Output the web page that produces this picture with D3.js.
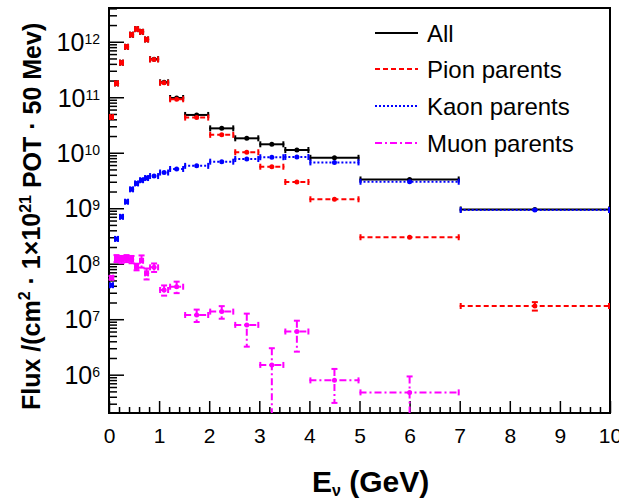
<!DOCTYPE html>
<html>
<head>
<meta charset="utf-8">
<script src="https://cdn.jsdelivr.net/npm/d3@7"></script>
<style>
  body { margin: 0; background: #fff; }
  text { font-family: "Liberation Sans", Arial, sans-serif; fill: #000; }
</style>
</head>
<body>
<div id="chart"></div>
<script>
// ========================================
// Data (bins in GeV, flux per bin)
// ========================================
const binEdges = [0, 0.1, 0.2, 0.3, 0.4, 0.5, 0.6, 0.7, 0.8, 1.0, 1.2, 1.5, 2.0, 2.5, 3.0, 3.5, 4.0, 5.0, 7.0, 10.0];

const allFlux  = [4.4e10, 1.78e11, 4.2e11, 8.1e11, 1.34e12, 1.69e12, 1.51e12, 1.1e12, 4.85e11, 1.86e11, 9.7e10, 4.8e10, 2.75e10, 1.82e10, 1.42e10, 1.12e10, 8.1e9, 3.3e9, 9.5e8];
const pionFlux = [4.4e10, 1.78e11, 4.2e11, 8.1e11, 1.34e12, 1.69e12, 1.51e12, 1.1e12, 4.8e11, 1.82e11, 9.2e10, 4.3e10, 2.1e10, 1.02e10, 5.6e9, 2.97e9, 1.45e9, 3.0e8, 1.73e7];
const pionErr  = [0, 0, 0, 0, 0, 0, 0, 0, 0, 0, 0, 0, 0, 0, 0, 0, 0, 0, 3e6];
const kaonFlux = [4.1e7, 2.8e8, 7.0e8, 1.31e9, 2.19e9, 2.8e9, 3.2e9, 3.5e9, 3.8e9, 4.4e9, 5.1e9, 5.8e9, 6.9e9, 7.7e9, 8.3e9, 8.4e9, 6.7e9, 3.0e9, 9.3e8];
const muonFlux = [5.6e7, 1.25e8, 1.2e8, 1.25e8, 1.2e8, 8.8e7, 1.13e8, 6.7e7, 8.6e7, 3.36e7, 3.85e7, 1.19e7, 1.37e7, 7.9e6, 1.5e6, 6.0e6, 7.9e5, 4.8e5, 0];
const muonErr  = [4e6, 1.8e7, 1.8e7, 1.8e7, 1.8e7, 1.2e7, 2.8e7, 1.5e7, 1.5e7, 7e6, 9e6, 3e6, 3.5e6, 4.7e6, 1.5e6, 3.4e6, 4.8e5, 4.5e5, 0];

const xTicks = [0, 1, 2, 3, 4, 5, 6, 7, 8, 9, 10];
const yExponents = [6, 7, 8, 9, 10, 11, 12];

const legendLabels = ['All', 'Pion parents', 'Kaon parents', 'Muon parents'];

// ========================================
// Sizes and styles
// ========================================
const
  width = 619,
  height = 498,
  pLeft = 109, pRight = 610, pTop = 8, pBottom = 413;

const series = [
  {name: legendLabels[0], values: allFlux,  errs: null,     color: '#000000', dash: null},
  {name: legendLabels[1], values: pionFlux, errs: pionErr,  color: '#ff0000', dash: '5,3'},
  {name: legendLabels[2], values: kaonFlux, errs: null,     color: '#0000ff', dash: '2,2'},
  {name: legendLabels[3], values: muonFlux, errs: muonErr,  color: '#ff00ff', dash: '7,3,2,3'},
];

const svg = d3.select('#chart').append('svg')
  .attr('width', width)
  .attr('height', height);

const x = d3.scaleLinear().domain([0, 10]).range([pLeft, pRight]);
const y = d3.scaleLog().domain([2.04e5, 4.06e12]).range([pBottom, pTop]);

// ========================================
// Axes (ticks pointing inward, ROOT style)
// ========================================
const minorX = d3.range(0, 10.001, 0.2).filter(v => Math.abs(v - Math.round(v)) > 1e-6);
svg.append('g')
  .attr('transform', `translate(0,${pBottom})`)
  .call(d3.axisBottom(x).tickValues(minorX).tickSize(-6).tickFormat(''))
  .call(g => g.select('.domain').remove())
  .selectAll('line').attr('stroke', '#000').attr('stroke-width', 1.5);

svg.append('g')
  .attr('transform', `translate(0,${pBottom})`)
  .call(d3.axisBottom(x).tickValues(xTicks).tickSize(-12).tickPadding(15).tickFormat(d3.format('d')))
  .call(g => g.select('.domain').remove())
  .call(g => g.selectAll('line').attr('stroke', '#000').attr('stroke-width', 1.5))
  .call(g => g.selectAll('text').style('font-size', '21px').attr('fill', '#000'));

const minorY = [];
for (let e = 5; e <= 12; e++) {
  for (let m = 2; m <= 9; m++) {
    const v = m * Math.pow(10, e);
    if (v > y.domain()[0] && v < y.domain()[1]) minorY.push(v);
  }
}
svg.append('g')
  .attr('transform', `translate(${pLeft},0)`)
  .call(d3.axisLeft(y).tickValues(minorY).tickSize(-8).tickFormat(''))
  .call(g => g.select('.domain').remove())
  .selectAll('line').attr('stroke', '#000').attr('stroke-width', 1.5);

const yMajor = svg.append('g')
  .attr('transform', `translate(${pLeft},0)`)
  .call(d3.axisLeft(y).tickValues(yExponents.map(e => Math.pow(10, e))).tickSize(-15).tickFormat(''))
  .call(g => g.select('.domain').remove());
yMajor.selectAll('line').attr('stroke', '#000').attr('stroke-width', 1.5);
yMajor.selectAll('.tick').each(function (d) {
  const t = d3.select(this).select('text')
    .attr('x', -9)
    .attr('dy', '0.35em')
    .attr('text-anchor', 'end')
    .style('font-size', '25px')
    .attr('fill', '#000');
  t.append('tspan').text('10');
  t.append('tspan').attr('dy', '-0.5em').style('font-size', '14px').text(Math.round(Math.log10(d)));
});

// frame
svg.append('rect')
  .attr('x', pLeft).attr('y', pTop)
  .attr('width', pRight - pLeft).attr('height', pBottom - pTop)
  .attr('fill', 'none').attr('stroke', '#000').attr('stroke-width', 2);

// ========================================
// Histograms drawn as error bars
// ========================================
const plot = svg.append('g');
const cap = 3;
series.forEach(s => {
  const pts = s.values.map((v, i) => ({
    lo: binEdges[i], hi: binEdges[i + 1], c: (binEdges[i] + binEdges[i + 1]) / 2,
    v: v, e: s.errs ? s.errs[i] : 0
  })).filter(p => p.v > 0);
  const g = plot.append('g')
    .attr('stroke', s.color).attr('fill', s.color).attr('stroke-width', 2);

  // horizontal bar (bin width)
  g.selectAll('line.h').data(pts).enter().append('line')
    .attr('x1', p => x(p.lo)).attr('x2', p => x(p.hi))
    .attr('y1', p => y(p.v)).attr('y2', p => y(p.v))
    .attr('stroke-dasharray', s.dash);
  // end caps on horizontal bar
  g.selectAll('line.cl').data(pts).enter().append('line')
    .attr('x1', p => x(p.lo) + 1).attr('x2', p => x(p.lo) + 1)
    .attr('y1', p => y(p.v) - cap).attr('y2', p => y(p.v) + cap);
  g.selectAll('line.cr').data(pts).enter().append('line')
    .attr('x1', p => x(p.hi) - 1).attr('x2', p => x(p.hi) - 1)
    .attr('y1', p => y(p.v) - cap).attr('y2', p => y(p.v) + cap);

  // vertical error bars
  const withErr = pts.filter(p => p.e > 0);
  g.selectAll('line.v').data(withErr).enter().append('line')
    .attr('x1', p => x(p.c)).attr('x2', p => x(p.c))
    .attr('y1', p => y(p.v + p.e))
    .attr('y2', p => p.v - p.e > y.domain()[0] ? y(p.v - p.e) : pBottom)
    .attr('stroke-dasharray', s.dash);
  g.selectAll('line.vt').data(withErr).enter().append('line')
    .attr('x1', p => x(p.c) - cap).attr('x2', p => x(p.c) + cap)
    .attr('y1', p => y(p.v + p.e)).attr('y2', p => y(p.v + p.e));
  g.selectAll('line.vb').data(withErr.filter(p => p.v - p.e > y.domain()[0])).enter().append('line')
    .attr('x1', p => x(p.c) - cap).attr('x2', p => x(p.c) + cap)
    .attr('y1', p => y(p.v - p.e)).attr('y2', p => y(p.v - p.e));

  // marker
  g.selectAll('circle').data(pts).enter().append('circle')
    .attr('cx', p => x(p.c)).attr('cy', p => y(p.v))
    .attr('r', 2.5).attr('stroke', 'none');
});

// ========================================
// Legend
// ========================================
const legend = svg.append('g');
series.forEach((s, i) => {
  const ly = [33, 69, 106, 143][i];
  legend.append('line')
    .attr('x1', 375).attr('x2', 418).attr('y1', ly).attr('y2', ly)
    .attr('stroke', s.color).attr('stroke-width', 2)
    .attr('stroke-dasharray', s.dash);
  legend.append('text')
    .attr('x', 427).attr('y', ly + 9)
    .style('font-size', '24px')
    .text(s.name);
});

// ========================================
// Axis titles
// ========================================
const xt = svg.append('text')
  .attr('x', 312).attr('y', 492)
  .style('font-size', '30px').style('font-weight', 'bold');
xt.append('tspan').text('E');
xt.append('tspan').attr('dy', '0.25em').style('font-size', '16px').text('ν');
xt.append('tspan').attr('dy', '-0.133em').text(' (GeV)');

const yt = svg.append('text')
  .attr('transform', 'translate(40,410) rotate(-90)')
  .style('font-size', '25px').style('font-weight', 'bold');
yt.append('tspan').text('Flux /(cm');
yt.append('tspan').attr('dy', '-0.6em').style('font-size', '16px').text('2');
yt.append('tspan').attr('dy', '0.4em').text('   ·   1×10');
yt.append('tspan').attr('dy', '-0.6em').style('font-size', '16px').text('21');
yt.append('tspan').attr('dy', '0.4em').text(' POT   ·   50 Mev)');
</script>
</body>
</html>
